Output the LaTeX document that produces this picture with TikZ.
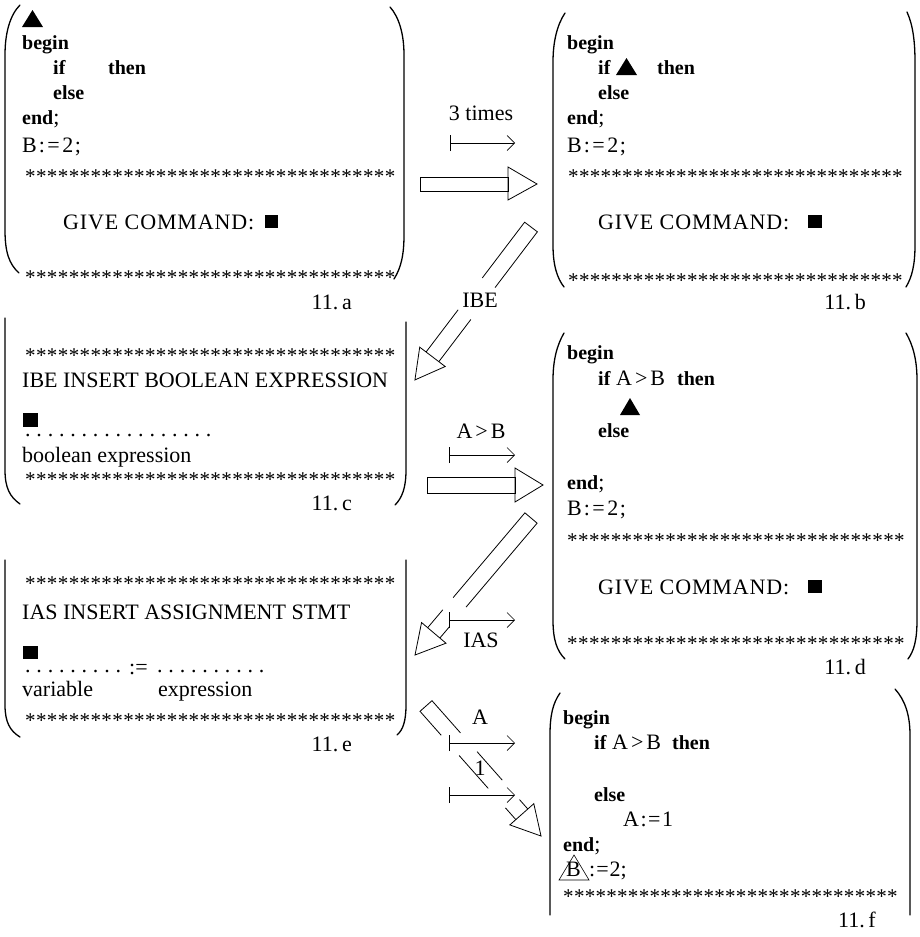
\documentclass[tikz,border=0pt]{standalone}
\usepackage{fontspec}
\setmainfont{Liberation Serif}
\usetikzlibrary{arrows.meta}

% type sizes: one drawing unit is 1pt
\newcommand\rmsize{\fontsize{22}{24}\selectfont}
\newcommand\kw[1]{{\fontsize{20}{24}\selectfont\bfseries #1}}
\newcommand\lettersp{\addfontfeature{LetterSpace=4}}
\newcommand\asgn[2]{#1\kern2pt:\kern2.5pt=\kern2.5pt#2}
\newcommand\starrow[2]{\foreach \k in {1,...,#1}{\makebox[#2][l]{*}}}
\newcommand\dotrow[1]{\foreach \k in {1,...,#1}{\makebox[11.3pt][l]{.}}}

\tikzset{
  panelframe/.style={line width=1.3pt, line cap=round},
  txt/.style={anchor=base west, inner sep=0pt, font=\rmsize},
  kwd/.style={anchor=base west, inner sep=0pt, font=\fontsize{20}{24}\selectfont\bfseries},
  lbl/.style={anchor=base, inner sep=0pt, font=\rmsize},
  figtag/.style={anchor=base east, inner sep=0pt, font=\rmsize},
  starline/.style={anchor=base west, inner sep=0pt, font=\fontsize{21}{21}\selectfont},
  keyarrow/.style={line width=0.7pt,
    {Bar[width=16pt,line width=0.7pt]}-{Straight Barb[length=7.5pt,width=15pt,line width=0.7pt]}},
  fatarrow/.style={line width=0.8pt, line join=miter},
}

\begin{document}
\begin{tikzpicture}[x=1pt,y=-1pt]
\fill[white] (0,0) rectangle (919,937);
\useasboundingbox (0,0) rectangle (919,937);

% ---------- screen 11.a ----------
\draw[panelframe] (20,5) .. controls (10,15) and (5,33) .. (5,55) -- (5,230)
  .. controls (5,252) and (9,264) .. (19,273);
\draw[panelframe] (390,7) .. controls (399,17) and (404,34) .. (404,55) -- (404,235)
  .. controls (404,255) and (401,268) .. (394,279);
\fill (22,27) -- (43,27) -- (32.5,10) -- cycle;
\node[kwd] (a1) at (22,49) {begin};
\node[kwd] (a2) at (53,74) {if};
\node[kwd] (a3) at (108,74) {then};
\node[kwd] (a4) at (53,99) {else};
\node[txt] (a5) at (22,124) {\kw{end};};
\node[txt] (a6) at (22,152) {\asgn{B}{2}\kern1.5pt;};
\node[starline] (a7) at (25,183) {\starrow{34}{10.9pt}};
\node[txt] (a8) at (63,229) {\lettersp GIVE COMMAND:};
\fill (265,215) rectangle (278,228);
\node[starline] (a9) at (25,284) {\starrow{34}{10.9pt}};
\node[figtag] (ta) at (352,309) {11.\,a};

% ---------- screen 11.b ----------
\draw[panelframe] (565,13) .. controls (557,25) and (553,42) .. (553,62) -- (553,245)
  .. controls (553,265) and (557,278) .. (564,287);
\draw[panelframe] (907,12) .. controls (913,25) and (915,42) .. (915,62) -- (915,245)
  .. controls (915,265) and (912,277) .. (906,287);
\node[kwd] (b1) at (567,49) {begin};
\node[kwd] (b2) at (598,74) {if};
\fill (616,75) -- (637,75) -- (626.5,58) -- cycle;
\node[kwd] (b3) at (657,74) {then};
\node[kwd] (b4) at (598,99) {else};
\node[txt] (b5) at (567,124) {\kw{end};};
\node[txt] (b6) at (567,152) {\asgn{B}{2}\kern1.5pt;};
\node[starline] (b7) at (568,183) {\starrow{31}{10.8pt}};
\node[txt] (b8) at (598,229) {\lettersp GIVE COMMAND:};
\fill (808,215) rectangle (822,228);
\node[starline] (b9) at (568,287) {\starrow{31}{10.8pt}};
\node[figtag] (tb) at (866,309) {11.\,b};

% ---------- screen 11.c ----------
\draw[panelframe] (5,318) -- (5,470) .. controls (5,488) and (10,497) .. (20,504);
\draw[panelframe] (406,322) -- (406,470) .. controls (406,488) and (402,498) .. (395,505);
\node[starline] (c1) at (25,362) {\starrow{34}{10.9pt}};
\node[txt] (c2) at (22,387) {IBE INSERT BOOLEAN EXPRESSION};
\fill (23,413) rectangle (38,427);
\node[txt] (c3) at (25,436) {\dotrow{17}};
\node[txt] (c4) at (22,462) {boolean expression};
\node[starline] (c5) at (25,486) {\starrow{34}{10.9pt}};
\node[figtag] (tc) at (352,510) {11.\,c};

% ---------- screen 11.d ----------
\draw[panelframe] (564,333) .. controls (557,345) and (553,360) .. (553,380) -- (553,620)
  .. controls (553,640) and (557,651) .. (565,659);
\draw[panelframe] (906,333) .. controls (913,345) and (917,360) .. (917,380) -- (917,620)
  .. controls (917,640) and (914,651) .. (908,659);
\node[kwd] (d1) at (567,359) {begin};
\node[kwd] (d2) at (598,385) {if};
\node[txt] (d3) at (616,385) {A\kern3pt>\kern3pt B};
\node[kwd] (d4) at (677,385) {then};
\fill (620,415) -- (640,415) -- (630,398) -- cycle;
\node[kwd] (d5) at (598,437) {else};
\node[txt] (d6) at (567,489) {\kw{end};};
\node[txt] (d7) at (567,515) {\asgn{B}{2}\kern1.5pt;};
\node[starline] (d8) at (567,547) {\starrow{31}{10.9pt}};
\node[txt] (d9) at (598,594) {\lettersp GIVE COMMAND:};
\fill (808,580) rectangle (822,593);
\node[starline] (d10) at (567,650) {\starrow{31}{10.9pt}};
\node[figtag] (td) at (866,674) {11.\,d};

% ---------- screen 11.e ----------
\draw[panelframe] (5,560) -- (5,705) .. controls (5,722) and (10,731) .. (20,737);
\draw[panelframe] (406,560) -- (406,705) .. controls (406,721) and (403,730) .. (397,735);
\node[starline] (e1) at (25,590) {\starrow{34}{10.9pt}};
\node[txt] (e2) at (22,619) {IAS INSERT ASSIGNMENT STMT};
\fill (23,646) rectangle (38,659);
\node[txt] (e3) at (25,672) {\dotrow{9}};
\node[txt] (e4) at (129,674) {:=};
\node[txt] (e5) at (157,672) {\dotrow{10}};
\node[txt] (e6) at (22,696) {variable};
\node[txt] (e7) at (158,696) {expression};
\node[starline] (e8) at (25,727) {\starrow{34}{10.9pt}};
\node[figtag] (te) at (352,751) {11.\,e};

% ---------- screen 11.f ----------
\draw[panelframe] (560,693) .. controls (553,703) and (550,715) .. (550,735) -- (550,915);
\draw[panelframe] (895,689) .. controls (905,700) and (910,715) .. (910,735) -- (910,915);
\node[kwd] (f1) at (563,724) {begin};
\node[kwd] (f2) at (594,749) {if};
\node[txt] (f3) at (612,749) {A\kern3pt>\kern3pt B};
\node[kwd] (f4) at (672,749) {then};
\node[kwd] (f5) at (594,801) {else};
\node[txt] (f6) at (623,826) {A\kern1.5pt:\kern1.5pt=\kern1.5pt1};
\node[txt] (f7) at (563,851) {\kw{end};};
\node[txt] (f8) at (566,876) {B};
\node[txt] (f8b) at (589,876) {:\kern1pt=\kern1pt2;};
\draw[line width=0.6pt] (559,880) -- (574,855) -- (589,880) -- cycle;
\node[starline] (f9) at (563,903) {\starrow{31}{10.8pt}};
\node[figtag] (tf) at (876,927) {11.\,f};

% ---------- commands between the screens ----------
% 11.a -> 11.b : key pressed three times
\node[lbl] (t3) at (481,120) {3 times};
\coordinate (k1a) at (450,143); \coordinate (k1b) at (515,143);
\draw[keyarrow] (k1a) -- (k1b);
\coordinate (h1) at (420,184);
\begin{scope}[shift={(h1)}]
  \draw[fatarrow] (0,-7) rectangle (88,7);
  \draw[fatarrow] (88,-17) -- (117,0) -- (88,16) -- cycle;
\end{scope}

% 11.b -> 11.c : IBE
\node[lbl] (tibe) at (480,307) {IBE};
\coordinate (ibeT) at (531,227);
\begin{scope}[shift={(ibeT)}, rotate=-127.2]
  \draw[fatarrow] (70,8) -- (0,8) -- (0,-8) -- (70,-8);
  \draw[fatarrow] (110,8) -- (163,8) (110,-8) -- (163,-8);
  \draw[fatarrow] (163,-16) -- (192,0) -- (163,16) -- cycle;
\end{scope}

% 11.c -> 11.d : A > B
\node[lbl] (tab) at (481,438) {A\kern3pt>\kern3pt B};
\coordinate (k2a) at (449,455); \coordinate (k2b) at (515,455);
\draw[keyarrow] (k2a) -- (k2b);
\coordinate (h2) at (427,485);
\begin{scope}[shift={(h2)}]
  \draw[fatarrow] (0,-8) rectangle (88,8);
  \draw[fatarrow] (88,-17) -- (116,0) -- (88,17) -- cycle;
\end{scope}

% 11.d -> 11.e : IAS
\node[lbl] (tias) at (481,647) {IAS};
\coordinate (k3a) at (449,620); \coordinate (k3b) at (515,620);
\draw[keyarrow] (k3a) -- (k3b);
\coordinate (iasT) at (531,518);
\begin{scope}[shift={(iasT)}, rotate=-130.25]
  \draw[fatarrow] (111,8) -- (0,8) -- (0,-8) -- (110,-8);
  \draw[fatarrow] (127,8) -- (150.5,8) (136,-8) -- (150.5,-8);
  \draw[fatarrow] (150.5,-16) -- (179.5,0) -- (150.5,16) -- cycle;
\end{scope}

% 11.e -> 11.f : A, 1
\node[lbl] (tA) at (480,724) {A};
\node[lbl] (t1) at (480,775) {1};
\coordinate (k4a) at (449,743); \coordinate (k4b) at (515,743);
\coordinate (k5a) at (449,795); \coordinate (k5b) at (515,795);
\draw[keyarrow] (k4a) -- (k4b);
\draw[keyarrow] (k5a) -- (k5b);
\coordinate (asT) at (426,706);
\begin{scope}[shift={(asT)}, rotate=-48.5]
  \draw[fatarrow] (32,8) -- (0,8) -- (0,-8) -- (43,-8);
  \draw[fatarrow] (59,8) -- (103,8) (129,8) -- (144.6,8);
  \draw[fatarrow] (68,-8) -- (106,-8) (132,-8) -- (144.6,-8);
  \draw[fatarrow] (144.6,-16) -- (173.6,0) -- (144.6,16) -- cycle;
\end{scope}
\end{tikzpicture}
\end{document}
